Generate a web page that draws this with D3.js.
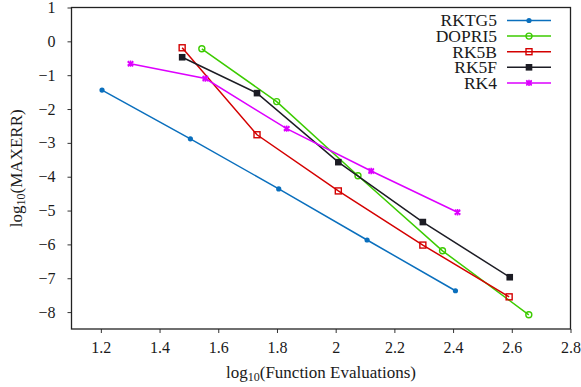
<!DOCTYPE html>
<html lang="en">
<head>
<meta charset="UTF-8">
<title>log10(MAXERR) vs log10(Function Evaluations)</title>
<style>
    body { margin: 0; background: #fff; }
    svg, svg text { font-family: "Liberation Serif", "Times New Roman", serif; }
    text { fill: #1a1a1a; }
    .tick text { font-size: 16px; }
    .axis-label { font-size: 17px; }
    .legend text { font-size: 17.5px; }
</style>
</head>
<body>
<svg width="581" height="387"></svg>
<script src="https://d3js.org/d3.v7.min.js"></script>
<script>

    // Series names and colours
    const seriesNames = ['RKTG5', 'DOPRI5', 'RK5B', 'RK5F', 'RK4'];
    const seriesColors = ['#0a6fbd', '#3ccb00', '#d40000', '#1c1c24', '#dd00ff'];

    // log10(function evaluations) for each method
    const rktg5X  = [1.204, 1.505, 1.806, 2.107, 2.408];
    const dopri5X = [1.544, 1.799, 2.076, 2.364, 2.658];
    const rk5bX   = [1.477, 1.732, 2.009, 2.297, 2.591];
    const rk5fX   = [1.477, 1.732, 2.009, 2.297, 2.593];
    const rk4X    = [1.301, 1.556, 1.833, 2.121, 2.415];

    // log10(max error) for each method
    const rktg5Y  = [-1.44, -2.88, -4.36, -5.87, -7.37];
    const dopri5Y = [-0.22, -1.78, -3.97, -6.19, -8.08];
    const rk5bY   = [-0.19, -2.76, -4.42, -6.02, -7.55];
    const rk5fY   = [-0.47, -1.53, -3.57, -5.34, -6.97];
    const rk4Y    = [-0.66, -1.10, -2.58, -3.83, -5.05];

    // Tick values
    const xTicks = [1.2, 1.4, 1.6, 1.8, 2, 2.2, 2.4, 2.6, 2.8];
    const yTicks = [1, 0, -1, -2, -3, -4, -5, -6, -7, -8];

    const xs = [rktg5X, dopri5X, rk5bX, rk5fX, rk4X];
    const ys = [rktg5Y, dopri5Y, rk5bY, rk5fY, rk4Y];
    const markers = ['dot', 'circle', 'square', 'filledSquare', 'star'];

    const series = seriesNames.map(function (name, i) {
        return {
            name: name,
            color: seriesColors[i],
            marker: markers[i],
            points: xs[i].map(function (x, j) { return { x: x, y: ys[i][j] }; })
        };
    });

    const margin = { left: 71.5, right: 10.5, top: 7.5, bottom: 58 };
    const svg = d3.select('svg');
    const width = +svg.attr('width');
    const height = +svg.attr('height');
    const innerWidth = width - margin.left - margin.right;
    const innerHeight = height - margin.top - margin.bottom;

    const xScale = d3.scaleLinear().domain([1.1, 2.8]).range([0, innerWidth]);
    const yScale = d3.scaleLinear().domain([-8.5, 1]).range([innerHeight, 0]);

    const g = svg.append('g')
        .attr('transform', 'translate(' + margin.left + ' ' + margin.top + ')');

    const fmt = function (d) { return String(d).replace('-', '\u2212'); };

    // Axes
    const xAxisG = g.append('g')
        .attr('transform', 'translate(0 ' + innerHeight + ')')
        .call(d3.axisBottom(xScale).tickValues(xTicks).tickFormat(fmt)
            .tickSize(4).tickPadding(9).tickSizeOuter(0));

    const yAxisG = g.append('g')
        .call(d3.axisLeft(yScale).tickValues(yTicks).tickFormat(fmt)
            .tickSize(4).tickPadding(12).tickSizeOuter(0));

    [xAxisG, yAxisG].forEach(function (a) {
        a.attr('font-family', null).attr('font-size', null);
        a.select('.domain').remove();
        a.selectAll('.tick line').attr('stroke', '#333');
    });

    // Frame
    g.append('rect')
        .attr('width', innerWidth)
        .attr('height', innerHeight)
        .attr('fill', 'none')
        .attr('stroke', '#222')
        .attr('stroke-width', 1.3);

    // Axis labels
    const xLab = svg.append('text')
        .attr('class', 'axis-label')
        .attr('x', margin.left + innerWidth / 2)
        .attr('y', 378)
        .attr('text-anchor', 'middle');
    xLab.append('tspan').text('log');
    xLab.append('tspan').attr('font-size', '12px').attr('dy', 3).text('10');
    xLab.append('tspan').attr('dy', -3).text('(Function Evaluations)');

    const yLab = svg.append('text')
        .attr('class', 'axis-label')
        .attr('transform', 'translate(22 ' + (margin.top + innerHeight / 2) + ') rotate(-90)')
        .attr('text-anchor', 'middle');
    yLab.append('tspan').text('log');
    yLab.append('tspan').attr('font-size', '12px').attr('dy', 3).text('10');
    yLab.append('tspan').attr('dy', -3).text('(MAXERR)');

    const line = d3.line()
        .x(function (d) { return xScale(d.x); })
        .y(function (d) { return yScale(d.y); });

    function drawMarker(sel, s) {
        if (s.marker === 'dot') {
            sel.append('circle').attr('r', 2.6).attr('fill', s.color);
        } else if (s.marker === 'circle') {
            sel.append('circle').attr('r', 3).attr('fill', 'none')
                .attr('stroke', s.color).attr('stroke-width', 1.4);
        } else if (s.marker === 'square') {
            sel.append('rect').attr('x', -3).attr('y', -3).attr('width', 6).attr('height', 6)
                .attr('fill', 'none').attr('stroke', s.color).attr('stroke-width', 1.4);
        } else if (s.marker === 'filledSquare') {
            sel.append('rect').attr('x', -3.3).attr('y', -3.3).attr('width', 6.6).attr('height', 6.6)
                .attr('fill', s.color);
        } else {
            sel.append('path').attr('d', d3.symbol(d3.symbolAsterisk, 28)())
                .attr('fill', 'none').attr('stroke', s.color).attr('stroke-width', 1.6);
            sel.append('path').attr('d', d3.symbol(d3.symbolTimes, 20)())
                .attr('fill', 'none').attr('stroke', s.color).attr('stroke-width', 1.6);
        }
    }

    series.forEach(function (s) {
        g.append('path')
            .datum(s.points)
            .attr('d', line)
            .attr('fill', 'none')
            .attr('stroke', s.color)
            .attr('stroke-width', 1.5);

        g.selectAll(null)
            .data(s.points)
            .enter()
            .append('g')
            .attr('transform', function (d) {
                return 'translate(' + xScale(d.x) + ' ' + yScale(d.y) + ')';
            })
            .each(function () { drawMarker(d3.select(this), s); });
    });

    // Legend
    const legend = svg.append('g').attr('class', 'legend');
    series.forEach(function (s, i) {
        const row = legend.append('g')
            .attr('transform', 'translate(0 ' + (20.5 + i * 15.6) + ')');
        row.append('text')
            .attr('x', 497)
            .attr('y', 5.8)
            .attr('text-anchor', 'end')
            .text(s.name);
        row.append('line')
            .attr('x1', 507).attr('x2', 551)
            .attr('stroke', s.color)
            .attr('stroke-width', 1.5);
        const m = row.append('g').attr('transform', 'translate(529 0)');
        drawMarker(m, s);
    });

</script>
</body>
</html>
